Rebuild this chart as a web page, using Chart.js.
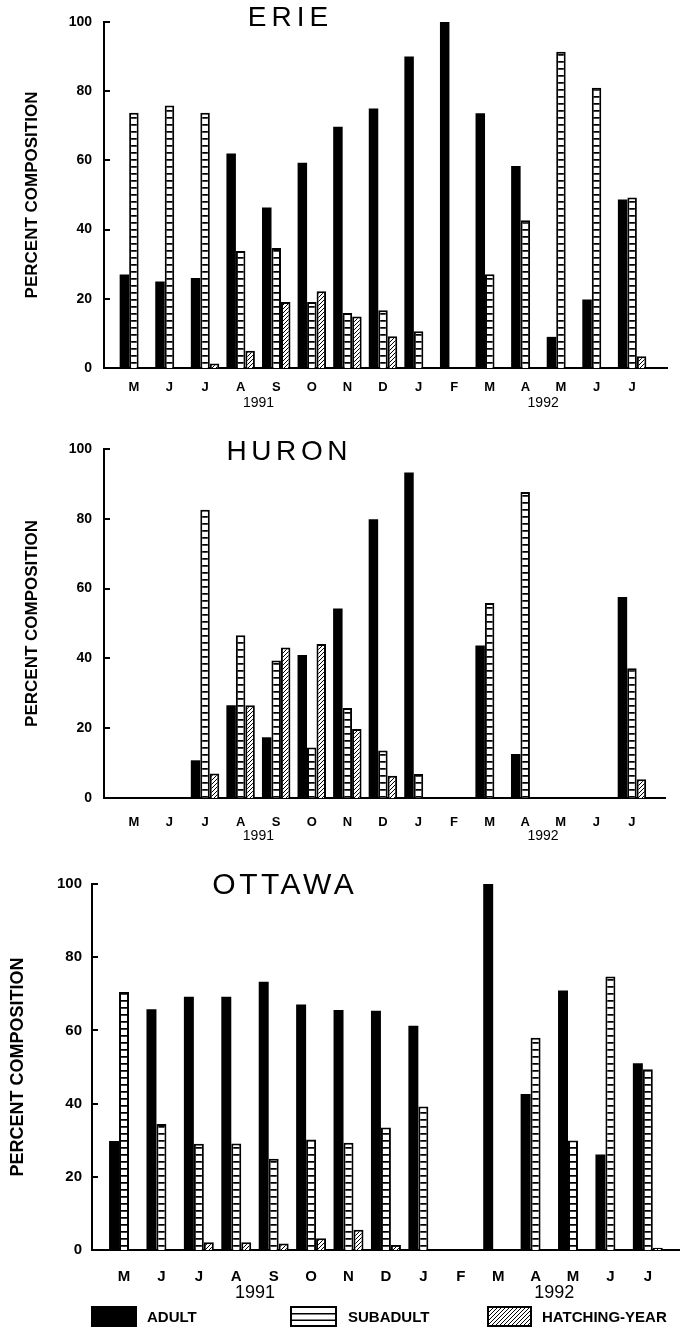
<!DOCTYPE html>
<html><head><meta charset="utf-8">
<script src="https://cdn.jsdelivr.net/npm/chart.js@4.4.1/dist/chart.umd.min.js"></script>
<style>
html,body{margin:0;padding:0;background:#fff;}
#wrap{position:relative;width:680px;height:1329px;overflow:hidden;font-family:"Liberation Sans",Arial,sans-serif;}
canvas.c{position:absolute;left:0;}
.lgt{position:absolute;font-weight:bold;font-size:15px;line-height:21px;color:#000;white-space:nowrap;}
.lgb{position:absolute;}
</style></head><body>
<div id="wrap">
<canvas id="erie" class="c" width="680" height="420" style="top:0px"></canvas>
<canvas id="huron" class="c" width="680" height="435" style="top:420px"></canvas>
<canvas id="ottawa" class="c" width="680" height="474" style="top:855px"></canvas>
<div id="legend"></div>
</div>
<script>
// ---------- data ----------
const months = ['M','J','J','A','S','O','N','D','J','F','M','A','M','J','J'];
const yearLabels = ['1991','1992'];
const yearTickAt = [3.5, 11.5];
const seriesNames = ['ADULT','SUBADULT','HATCHING-YEAR'];
const axisTitle = 'PERCENT COMPOSITION';
const yTicks = [0, 20, 40, 60, 80, 100];

const erieAdult    = [27, 25, 26, 62, 46.4, 59.3, 69.7, 75, 90, 100, 73.6, 58.4, 9, 19.8, 48.7];
const erieSubadult = [73.8, 75.9, 73.8, 33.8, 34.7, 19.1, 15.9, 16.7, 10.6, null, 27.1, 42.7, 91.4, 81, 49.3];
const erieHatching = [null, null, 1.3, 5, 19.1, 22.2, 14.9, 9.2, null, null, null, null, null, null, 3.4];

const huronAdult    = [null, null, 10.8, 26.6, 17.4, 41.0, 54.3, 79.9, 93.3, null, 43.7, 12.6, null, null, 57.6];
const huronSubadult = [null, null, 82.6, 46.6, 39.4, 14.5, 25.8, 13.6, 6.9, null, 55.9, 87.7, null, null, 37.2];
const huronHatching = [null, null, 7.0, 26.6, 43.1, 44.1, 19.8, 6.4, null, null, null, null, null, null, 5.4];

const ottawaAdult    = [29.8, 65.8, 69.2, 69.2, 73.3, 67.1, 65.6, 65.4, 61.3, null, 100, 42.6, 70.9, 26.1, 51.0];
const ottawaSubadult = [70.5, 34.4, 29.0, 29.1, 24.9, 30.2, 29.3, 33.5, 39.2, null, null, 58.0, 29.9, 74.7, 49.4];
const ottawaHatching = [null, null, 2.1, 2.1, 1.8, 3.2, 5.5, 1.4, null, null, null, null, null, null, 0.6];

// ---------- styling ----------
Chart.defaults.font.family = '"Liberation Sans", Arial, Helvetica, sans-serif';
Chart.defaults.color = '#000';

function mkPattern(w, h, draw) {
  const c = document.createElement('canvas'); c.width = w; c.height = h;
  const g = c.getContext('2d'); draw(g, w, h);
  return g.createPattern(c, 'repeat');
}
const ladderPat = mkPattern(8, 7, (g, w, h) => {
  g.fillStyle = '#fff'; g.fillRect(0, 0, w, h);
  g.fillStyle = '#000'; g.fillRect(0, 5, w, 1);
  g.fillStyle = '#444'; g.fillRect(0, 6, w, 1);
});
const hatchPat = mkPattern(4, 4, (g, w, h) => {
  g.fillStyle = '#fff'; g.fillRect(0, 0, w, h);
  g.strokeStyle = '#000'; g.lineWidth = 1;
  g.beginPath();
  g.moveTo(-1, 5); g.lineTo(5, -1);
  g.moveTo(-1, 1); g.lineTo(1, -1);
  g.moveTo(3, 5); g.lineTo(5, 3);
  g.stroke();
});

const titlePlugin = {
  id: 'panelTitle',
  afterDraw(chart, args, o) {
    const c = chart.ctx; c.save();
    c.font = 'normal ' + o.size + 'px "Liberation Sans", Arial, sans-serif';
    c.fillStyle = '#000'; c.textAlign = 'center'; c.textBaseline = 'middle';
    if ('letterSpacing' in c) c.letterSpacing = o.spacing + 'px';
    c.fillText(o.text, o.x + o.spacing / 2, o.y);
    c.restore();
  }
};

// small inward tick marks on the value axis
const innerTicks = {
  id: 'innerTicks',
  afterDraw(chart) {
    const y = chart.scales.y, a = chart.chartArea, c = chart.ctx;
    c.save(); c.strokeStyle = '#000'; c.lineWidth = 2;
    y.ticks.forEach(t => {
      const py = Math.round(y.getPixelForValue(t.value));
      c.beginPath(); c.moveTo(a.left, py); c.lineTo(a.left + 6, py); c.stroke();
    });
    c.restore();
  }
};

const toXY = arr => arr.map((v, i) => ({x: i, y: v}));

function build(id, title, adult, sub, hatch, L) {
  const common = {categoryPercentage: 0.8, barPercentage: 1.0};
  return new Chart(document.getElementById(id), {
    type: 'bar',
    data: {datasets: [
      Object.assign({label: seriesNames[0], data: toXY(adult), backgroundColor: '#000', borderWidth: 0}, common),
      Object.assign({label: seriesNames[1], data: toXY(sub), backgroundColor: ladderPat, borderColor: '#000', borderWidth: 2}, common),
      Object.assign({label: seriesNames[2], data: toXY(hatch), backgroundColor: hatchPat, borderColor: '#000', borderWidth: 2}, common)
    ]},
    options: {
      responsive: false, animation: false, events: [],
      layout: {padding: {top: L.top, right: L.right, left: 0, bottom: 0}},
      plugins: {
        legend: {display: false}, tooltip: {enabled: false},
        panelTitle: {text: title, x: L.tx, y: L.ty, size: L.tsize, spacing: L.tsp}
      },
      scales: {
        x: {
          type: 'linear', offset: false, min: L.xmin, max: L.xmax,
          grid: {display: false, drawTicks: false},
          border: {display: true, color: '#000', width: 2},
          afterBuildTicks: s => { s.ticks = months.map((m, i) => ({value: i})); },
          afterFit: s => { s.height = L.xh; },
          ticks: {autoSkip: false, maxRotation: 0, minRotation: 0, padding: L.xpad,
                  font: {size: L.mfs, weight: 'bold'}, color: '#000',
                  callback: v => months[v]}
        },
        x2: {
          type: 'linear', position: 'bottom', weight: 1, offset: false, min: L.xmin, max: L.xmax,
          grid: {display: false, drawTicks: false},
          border: {display: false},
          afterBuildTicks: s => { s.ticks = yearTickAt.map(v => ({value: v})); },
          afterFit: s => { s.height = L.x2h; },
          ticks: {autoSkip: false, maxRotation: 0, minRotation: 0, padding: L.x2pad,
                  font: {size: L.yrfs, weight: L.yrw}, color: '#000',
                  callback: (v, i) => yearLabels[i]}
        },
        y: {
          min: 0, max: 100,
          afterBuildTicks: s => { s.ticks = yTicks.map(v => ({value: v})); },
          afterFit: s => { s.width = L.left; },
          border: {display: true, color: '#000', width: 2},
          grid: {display: false, drawTicks: false},
          ticks: {padding: L.ypad, font: {size: L.yfs, weight: 'bold'}, color: '#000'},
          title: {display: true, text: axisTitle, color: '#000',
                  font: {size: L.atfs, weight: 'bold'}, padding: {top: L.atpad, bottom: 0}}
        }
      }
    },
    plugins: [titlePlugin, innerTicks]
  });
}

build('erie', 'ERIE', erieAdult, erieSubadult, erieHatching, {
  top: 22, right: 13, left: 104, xmin: -0.84, xmax: 14.98,
  xh: 26, xpad: 12, mfs: 13, x2h: 26, x2pad: 1, yrfs: 14, yrw: 'normal',
  ypad: 12, yfs: 14, atfs: 17, atpad: 22,
  tx: 288, ty: 18, tsize: 28, tsp: 5
});
build('huron', 'HURON', huronAdult, huronSubadult, huronHatching, {
  top: 29, right: 15, left: 104, xmin: -0.84, xmax: 14.93,
  xh: 28, xpad: 17, mfs: 13, x2h: 29, x2pad: 2, yrfs: 14, yrw: 'normal',
  ypad: 12, yfs: 14, atfs: 17, atpad: 22,
  tx: 287, ty: 32, tsize: 28, tsp: 4.6
});
build('ottawa', 'OTTAWA', ottawaAdult, ottawaSubadult, ottawaHatching, {
  top: 29, right: 0, left: 92, xmin: -0.856, xmax: 14.86,
  xh: 31, xpad: 18, mfs: 15, x2h: 48, x2pad: 1, yrfs: 18, yrw: 'normal',
  ypad: 10, yfs: 15, atfs: 18, atpad: 7,
  tx: 283, ty: 31, tsize: 30, tsp: 3.5
});

// ---------- legend ----------
(function () {
  const lg = document.getElementById('legend');
  const boxes = [{l: 91, w: 46, t: 147}, {l: 290, w: 47, t: 348}, {l: 487, w: 45, t: 542}];
  const top = 1306, h = 21;
  seriesNames.forEach((name, i) => {
    const b = boxes[i];
    const cv = document.createElement('canvas');
    cv.width = b.w; cv.height = h; cv.className = 'lgb';
    cv.style.left = b.l + 'px'; cv.style.top = top + 'px';
    const g = cv.getContext('2d');
    if (i === 0) { g.fillStyle = '#000'; g.fillRect(0, 0, b.w, h); }
    else if (i === 1) {
      g.fillStyle = '#fff'; g.fillRect(0, 0, b.w, h);
      g.fillStyle = '#000';
      g.fillRect(0, 7, b.w, 1.5); g.fillRect(0, 13.5, b.w, 1.5);
      g.lineWidth = 2; g.strokeStyle = '#000'; g.strokeRect(1, 1, b.w - 2, h - 2);
    } else {
      g.fillStyle = hatchPat; g.fillRect(0, 0, b.w, h);
      g.lineWidth = 2; g.strokeStyle = '#000'; g.strokeRect(1, 1, b.w - 2, h - 2);
    }
    lg.appendChild(cv);
    const t = document.createElement('div');
    t.className = 'lgt'; t.textContent = name;
    t.style.left = b.t + 'px'; t.style.top = (top - 0.5) + 'px';
    lg.appendChild(t);
  });
})();
</script>
</body></html>
